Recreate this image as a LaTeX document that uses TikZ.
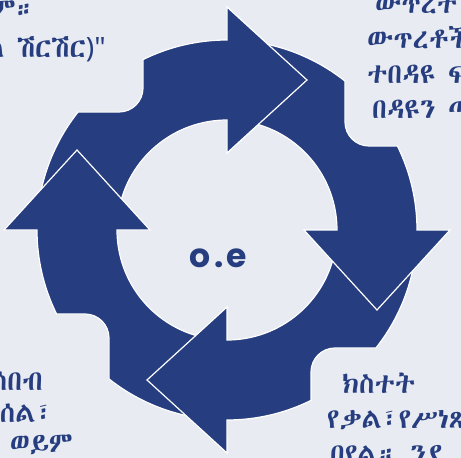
\documentclass[tikz,border=0pt]{standalone}
\usepackage{fontspec}
\IfFontExistsTF{Abyssinica SIL}{\newfontfamily\ethfont{Abyssinica SIL}}{\newfontfamily\ethfont{Noto Sans Ethiopic}}
\newfontfamily\latfont{Noto Sans}
\newfontfamily\hubfont{Poppins}
\definecolor{ringblue}{RGB}{38,61,128}
\definecolor{paper}{RGB}{232,235,241}
% one arrow of the ring, head at the top, pointing clockwise
\newcommand\cyclearrow{(170:110) -- (170:190) arc[start angle=170,end angle=141.6,radius=190]
  -- (-108,118) arc[start angle=-90,end angle=0,radius=24] -- (-84,170.4)
  arc[start angle=116.24,end angle=90,radius=190] -- (0,223) -- (80,150) -- (0,77) -- (0,110)
  arc[start angle=90,end angle=170,radius=110] -- cycle}

\begin{document}
\begin{tikzpicture}[x=1pt,y=1pt,
  arw/.style={fill=ringblue,draw=white,line width=1.2pt},
  eth/.style={text=ringblue,inner sep=0pt,font=\ethfont\fontsize{28}{28}\selectfont}]
\useasboundingbox (-227,-228) rectangle (234,230);
\clip (-227,-228) rectangle (234,230);
\fill[paper] (-227,-228) rectangle (234,230);
% ================= ring of four arrows =================
\foreach \rot in {0,90,180,270} {
  \begin{scope}[rotate=\rot]
    \filldraw[arw] \cyclearrow;
  \end{scope}
}
% top head lies over the tail of the right arrow
\begin{scope}
  \clip (-1,60) rectangle (100,240);
  \filldraw[arw] \cyclearrow;
\end{scope}
% centre label
\node[text=ringblue,inner sep=0pt,anchor=base,font=\hubfont\bfseries\fontsize{33}{33}\selectfont] (hub) at (-9,-37) {o\kern4pt.\kern3pt e};
% ================= texts round the ring =================
% top left
\node[eth,anchor=base east] (tl1) at (-191,211) {ም።};
\node[eth,anchor=base east] (tl2) at (-121,172) {ለ ሽርሽር{\latfont )"}};
% top right
\node[eth,anchor=base west] (tr1) at (148,216) {ውጥረተ};
\node[eth,anchor=base west] (tr2) at (140,181) {ውጥረቶች};
\node[eth,anchor=base west] (tr3) at (140,146) {ተበዳዩ ፍ};
\node[eth,anchor=base west] (tr4) at (145,111) {በዳዩን ጣ};
% bottom left
\node[eth,anchor=base east] (bl1) at (-184,-160) {ሰበብ};
\node[eth,anchor=base east] (bl2) at (-174,-192) {መሰል፣};
\node[eth,anchor=base east] (bl3) at (-154,-222) {ወይም};
% bottom right
\node[eth,anchor=base west] (br1) at (115,-163) {ክስተት};
\node[eth,anchor=base west] (br2) at (100,-198) {የቃል፣የሥነጽ};
\node[eth,anchor=base west] (br3) at (103,-233) {በየል። ንደ};
\end{tikzpicture}
\end{document}
